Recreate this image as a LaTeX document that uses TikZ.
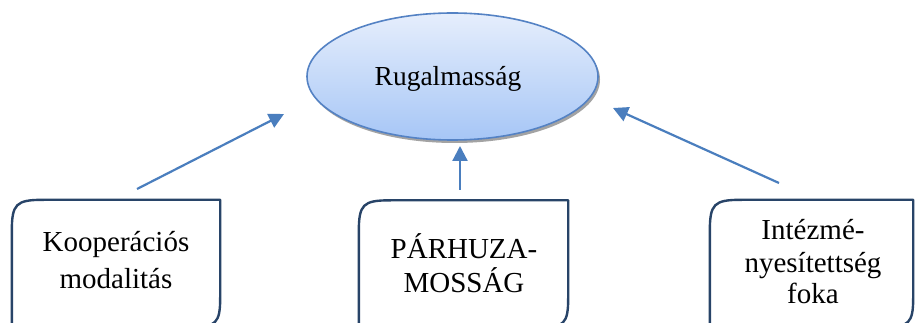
\documentclass[tikz,border=0pt]{standalone}
\usepackage{fontspec}
\setmainfont{Liberation Serif}
\usetikzlibrary{shapes.geometric,arrows.meta,shadows,calc}
\definecolor{boxline}{RGB}{40,68,104}
\definecolor{arrowblue}{RGB}{74,126,190}
\definecolor{elltop}{RGB}{230,238,252}
\definecolor{ellbot}{RGB}{166,198,246}
\definecolor{ellline}{RGB}{84,130,196}
\tikzset{
  boxnode/.style={minimum width=208pt, minimum height=127pt, inner sep=0pt},
  boxtext/.style={align=center, anchor=base, inner sep=0pt},
  boxframe/.style={draw=boxline, line width=2.4pt, line join=round},
  ellnode/.style={ellipse, minimum width=291pt, minimum height=127pt, inner sep=0pt,
    top color=elltop, bottom color=ellbot, draw=ellline, line width=1.6pt,
    drop shadow={shadow xshift=2pt, shadow yshift=-3pt, fill=black!45, opacity=0.8}},
  arr/.style={draw=arrowblue, line width=2.2pt, -{Triangle[length=15pt,width=15pt]}}
}
\newcommand{\snipbox}[1]{%
  \draw[boxframe] (#1.south west) -- ([yshift=-32pt]#1.north west)
    .. controls ([yshift=-4pt]#1.north west) and ([xshift=4pt]#1.north west) .. ([xshift=32pt]#1.north west)
    -- (#1.north east) -- ([yshift=30pt]#1.south east)
    .. controls ([yshift=4pt]#1.south east) and ([xshift=-4pt]#1.south east) .. ([xshift=-30pt]#1.south east) -- cycle;}
\begin{document}
\begin{tikzpicture}[x=1pt,y=-1pt]
\useasboundingbox (0,0) rectangle (915,323);
\clip (0,0) rectangle (915,323);
\fill[white] (0,0) rectangle (915,323);

\node[ellnode] (r) at (452.5,76.5) {};
\node[font=\fontsize{27.5}{30}\selectfont, anchor=base] (rt) at (448,86) {Rugalmasság};

\node[boxnode] (k) at (116,263.5) {};
\node[boxnode, minimum width=209pt] (p) at (463.5,264) {};
\node[boxnode, minimum width=203pt] (i) at (811.5,263.5) {};
\node[boxtext, font=\fontsize{29}{37}\selectfont] (kt) at (116,288) {Kooperációs\\modalitás};
\node[boxtext, font=\fontsize{29}{34}\selectfont] (pt) at (464,292) {PÁRHUZA-\\MOSSÁG};
\node[boxtext, font=\fontsize{29}{33}\selectfont] (it) at (813,303) {Intézmé-\\nyesítettség\\[-2pt]foka};
\snipbox{k}
\snipbox{p}
\snipbox{i}

\coordinate (ks) at (137,189);
\coordinate (ke) at (284,114);
\coordinate (ps) at (460,190);
\coordinate (pe) at (460,146);
\coordinate (is) at (779,183);
\coordinate (ie) at (613,108);
\draw[arr] (ks) -- (ke);
\draw[arr] (ps) -- (pe);
\draw[arr] (is) -- (ie);
\end{tikzpicture}
\end{document}
